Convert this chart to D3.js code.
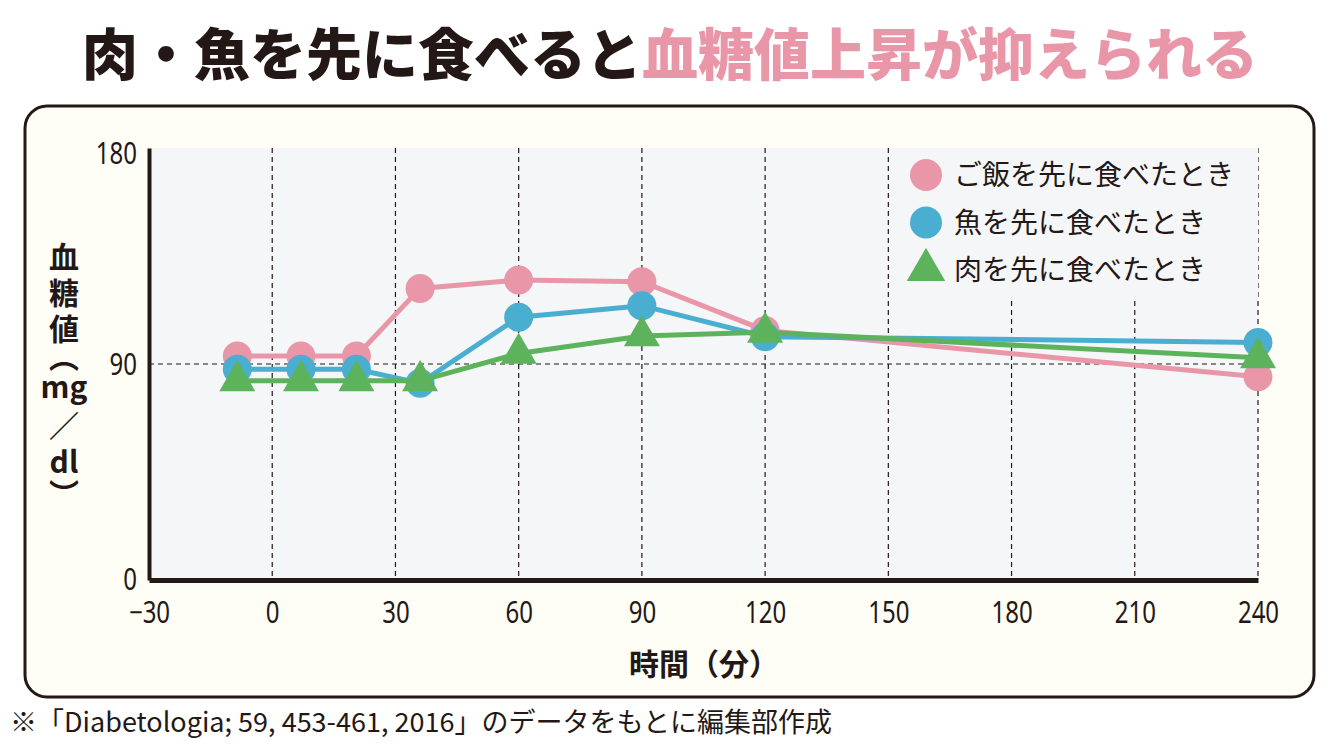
<!DOCTYPE html>
<html>
<head>
<meta charset="utf-8">
<script src="https://cdn.jsdelivr.net/npm/d3@7"></script>
<style>
  body { margin: 0; background: #ffffff; }
  text { font-family: "Noto Sans CJK JP", "Noto Sans", sans-serif; fill: #231815; }
  .num { font-family: "Noto Sans", "Roboto", sans-serif; }
  .vert { writing-mode: vertical-rl; }
</style>
</head>
<body>
<script>
// 時間（分）
var times = [-8.5, 7, 20.5, 36, 60, 90, 120, 240];
// 血糖値（mg/dl）
var riceFirst = [93.3, 93.3, 93.3, 121.5, 125, 124.3, 104, 84.7];
var fishFirst = [87.8, 87.8, 87.8, 82, 109.5, 114.3, 101.4, 99];
var meatFirst = [83, 83, 83, 83, 94.4, 101.7, 103.2, 92.6];

var seriesNames = ["ご飯を先に食べたとき", "魚を先に食べたとき", "肉を先に食べたとき"];
var xTicks = [-30, 0, 30, 60, 90, 120, 150, 180, 210, 240];
var yTicks = [0, 90, 180];

var W = 1340, H = 753;
var colors = ["#e996a9", "#49aed0", "#5db35b"];
var shapes = ["circle", "circle", "triangle"];

var svg = d3.select("body").append("svg")
    .attr("width", W)
    .attr("height", H);

// title
var title = svg.append("text")
    .attr("x", 670)
    .attr("y", 75)
    .attr("text-anchor", "middle")
    .style("font-size", "56px")
    .style("font-weight", 900);
title.append("tspan").style("fill", "#231815").text("肉・魚を先に食べると");
title.append("tspan").style("fill", "#e996a9").text("血糖値上昇が抑えられる");

// frame
svg.append("rect")
    .attr("x", 25).attr("y", 106)
    .attr("width", 1289).attr("height", 591)
    .attr("rx", 22).attr("ry", 22)
    .attr("fill", "#fffef6")
    .attr("stroke", "#231815")
    .attr("stroke-width", 3);

var x = d3.scaleLinear().domain([-30, 240]).range([149, 1258]);
var y = d3.scaleLinear().domain([0, 180]).range([580, 148]);

// plot background
svg.append("rect")
    .attr("x", x(-30)).attr("y", y(180))
    .attr("width", x(240) - x(-30)).attr("height", y(0) - y(180))
    .attr("fill", "#f5f6f8");

// grid
svg.append("g").selectAll("line")
    .data(xTicks.filter(function(d) { return d > -30; }))
    .enter().append("line")
    .attr("x1", function(d) { return x(d); })
    .attr("x2", function(d) { return x(d); })
    .attr("y1", y(180)).attr("y2", y(0))
    .attr("stroke", "#231815")
    .attr("stroke-width", 1.2)
    .attr("stroke-dasharray", "5,4");

svg.append("line")
    .attr("x1", x(-30)).attr("x2", x(240))
    .attr("y1", y(90)).attr("y2", y(90))
    .attr("stroke", "#231815")
    .attr("stroke-width", 1.2)
    .attr("stroke-dasharray", "5,4");

// legend backdrop hides the grid behind it
svg.append("rect")
    .attr("x", 891).attr("y", y(180))
    .attr("width", x(240) - 891).attr("height", 150)
    .attr("fill", "#f5f6f8");

// axes
var xAxis = svg.append("g")
    .attr("transform", "translate(0," + y(0) + ")")
    .call(d3.axisBottom(x).tickValues(xTicks).tickSize(0).tickPadding(22));
xAxis.select(".domain").attr("stroke", "#231815").attr("stroke-width", 5);
xAxis.selectAll("text")
    .attr("class", "num")
    .style("font-size", "30px")
    .attr("dy", "0.71em")
    .attr("transform", "scale(0.8,1)")
    .attr("fill", "#231815");

var yAxis = svg.append("g")
    .attr("transform", "translate(" + x(-30) + ",0)")
    .call(d3.axisLeft(y).tickValues(yTicks).tickSize(0).tickPadding(15));
yAxis.select(".domain").attr("stroke", "#231815").attr("stroke-width", 4);
yAxis.selectAll("text")
    .attr("class", "num")
    .style("font-size", "30px")
    .attr("dy", "0.36em")
    .attr("transform", "scale(0.8,1)")
    .attr("fill", "#231815");
yAxis.selectAll(".tick").filter(function(d) { return d === 180; })
    .select("text").attr("dy", "0.5em");
yAxis.selectAll(".tick").filter(function(d) { return d === 0; })
    .select("text").attr("dy", "0.3em");

// axis titles
svg.append("text")
    .attr("x", 704).attr("y", 675)
    .attr("text-anchor", "middle")
    .style("font-size", "30px")
    .style("font-weight", 700)
    .text("時間（分）");

// y title: vertical kanji, upright latin units
var yTitle = svg.append("g")
    .style("font-size", "30px")
    .style("font-weight", 700);
var yHead = yTitle.append("text")
    .attr("class", "vert")
    .attr("x", 64).attr("y", 242)
    .style("letter-spacing", "6px")
    .text("血糖値");
yHead.append("tspan")
    .attr("dy", -8)
    .style("letter-spacing", "0px")
    .text("（");
yTitle.append("text")
    .attr("x", 64).attr("y", 398)
    .attr("text-anchor", "middle")
    .text("mg");
yTitle.append("text")
    .attr("x", 64).attr("y", 437)
    .attr("text-anchor", "middle")
    .text("／");
yTitle.append("text")
    .attr("x", 64).attr("y", 473)
    .attr("text-anchor", "middle")
    .text("dl");
yTitle.append("text")
    .attr("class", "vert")
    .attr("x", 64).attr("y", 479)
    .text("）");

// series
var allSeries = [riceFirst, fishFirst, meatFirst];
var line = d3.line()
    .x(function(d, i) { return x(times[i]); })
    .y(function(d) { return y(d); });

var tri = d3.symbol().type(d3.symbolTriangle).size(560);

allSeries.forEach(function(vals, k) {
    var g = svg.append("g");
    g.append("path")
        .datum(vals)
        .attr("d", line)
        .attr("fill", "none")
        .attr("stroke", colors[k])
        .attr("stroke-width", 5);
    if (shapes[k] === "circle") {
        g.selectAll("circle")
            .data(vals)
            .enter().append("circle")
            .attr("cx", function(d, i) { return x(times[i]); })
            .attr("cy", function(d) { return y(d); })
            .attr("r", 14.5)
            .attr("fill", colors[k]);
    } else {
        g.selectAll("path.mk")
            .data(vals)
            .enter().append("path")
            .attr("class", "mk")
            .attr("d", tri)
            .attr("transform", function(d, i) { return "translate(" + x(times[i]) + "," + y(d) + ")"; })
            .attr("fill", colors[k]);
    }
});

// legend
var legend = svg.append("g").selectAll("g")
    .data(seriesNames)
    .enter().append("g")
    .attr("transform", function(d, i) { return "translate(926," + (175 + i * 47.5) + ")"; });

legend.each(function(d, i) {
    var el = d3.select(this);
    if (shapes[i] === "circle") {
        el.append("circle").attr("r", 16).attr("fill", colors[i]);
    } else {
        el.append("path").attr("d", d3.symbol().type(d3.symbolTriangle).size(640)).attr("fill", colors[i]);
    }
    el.append("text")
        .attr("x", 28)
        .attr("y", 0)
        .attr("dy", "0.36em")
        .style("font-size", "28px")
        .text(d);
});

// source note
svg.append("text")
    .attr("x", 10).attr("y", 732)
    .style("font-size", "27px")
    .text("※「Diabetologia; 59, 453-461, 2016」のデータをもとに編集部作成");
</script>
</body>
</html>
